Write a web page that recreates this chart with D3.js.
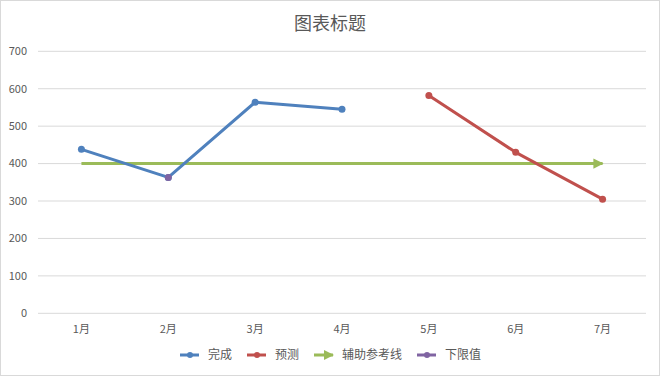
<!DOCTYPE html>
<html>
<head>
<meta charset="utf-8">
<script src="https://cdn.jsdelivr.net/npm/d3@7"></script>
<style>
  body { margin: 0; background: #fff; }
  svg { display: block; font-family: "Noto Sans CJK SC", "Microsoft YaHei", sans-serif; }
</style>
</head>
<body>
<script>
(function(){

//chart data
var months = ["1月", "2月", "3月", "4月", "5月", "6月", "7月"];
var doneValues = [438, 363, 564, 545, null, null, null];      //完成
var forecastValues = [null, null, null, null, 582, 430, 305]; //预测
var refValues = [400, 400, 400, 400, 400, 400, 400];          //辅助参考线
var lowerValues = [null, 363, null, null, null, null, null];  //下限值
var yTicks = [0, 100, 200, 300, 400, 500, 600, 700];

var seriesNames = ["完成", "预测", "辅助参考线", "下限值"];
var colors = ["#4f81bd", "#c0504d", "#9bbb59", "#8064a2"];

//frame dimensions
var width = 660,
    height = 376,
    left = 38,
    right = 646,
    top = 51.3,
    bottom = 313.3;

var svg = d3.select("body")
    .append("svg")
    .attr("width", width)
    .attr("height", height);

//outer border
svg.append("rect")
    .attr("x", 0.5).attr("y", 0.5)
    .attr("width", width - 1).attr("height", height - 1)
    .attr("fill", "#fff")
    .attr("stroke", "#d9d9d9");

var x = d3.scaleBand()
    .domain(months)
    .range([left, right]);

var y = d3.scaleLinear()
    .domain([0, 700])
    .range([bottom, top]);

function cx(d){ return x(d) + x.bandwidth() / 2; }

//gridlines
svg.selectAll(".grid")
    .data(yTicks)
    .enter()
    .append("line")
    .attr("class", "grid")
    .attr("x1", left).attr("x2", right)
    .attr("y1", function(d){ return y(d); })
    .attr("y2", function(d){ return y(d); })
    .attr("stroke", "#d9d9d9")
    .attr("stroke-width", 1);

//y axis labels
svg.selectAll(".ylab")
    .data(yTicks)
    .enter()
    .append("text")
    .attr("class", "ylab")
    .attr("x", 27)
    .attr("y", function(d){ return y(d); })
    .attr("dy", "0.35em")
    .attr("text-anchor", "end")
    .attr("fill", "#595959")
    .style("font-size", "11px")
    .text(function(d){ return d; });

//x axis labels
svg.selectAll(".xlab")
    .data(months)
    .enter()
    .append("text")
    .attr("class", "xlab")
    .attr("x", cx)
    .attr("y", 333)
    .attr("text-anchor", "middle")
    .attr("fill", "#595959")
    .style("font-size", "11px")
    .text(function(d){ return d; });

//title
svg.append("text")
    .attr("x", width / 2)
    .attr("y", 30)
    .attr("text-anchor", "middle")
    .attr("fill", "#595959")
    .style("font-size", "18px")
    .text("图表标题");

//arrow marker for the reference line
var defs = svg.append("defs");
defs.append("marker")
    .attr("id", "arrow")
    .attr("viewBox", "0 0 10 10")
    .attr("refX", 9).attr("refY", 5)
    .attr("markerWidth", 3.4).attr("markerHeight", 3.4)
    .attr("markerUnits", "strokeWidth")
    .attr("orient", "auto")
    .append("path")
    .attr("d", "M0,0L10,5L0,10Z")
    .attr("fill", colors[2]);

var line = d3.line()
    .defined(function(d){ return d.v != null; })
    .x(function(d){ return cx(d.m); })
    .y(function(d){ return y(d.v); });

function pairs(vals){
    return months.map(function(m, i){ return {m: m, v: vals[i]}; });
}

var allSeries = [doneValues, forecastValues, refValues, lowerValues];

//reference line (drawn under the others)
svg.append("path")
    .datum(pairs(refValues))
    .attr("d", line)
    .attr("fill", "none")
    .attr("stroke", colors[2])
    .attr("stroke-width", 3)
    .attr("marker-end", "url(#arrow)");

//data lines with markers
[0, 1, 3].forEach(function(s){
    var data = pairs(allSeries[s]);
    svg.append("path")
        .datum(data)
        .attr("d", line)
        .attr("fill", "none")
        .attr("stroke", colors[s])
        .attr("stroke-width", 3)
        .attr("stroke-linejoin", "round");
    svg.selectAll(".dot" + s)
        .data(data.filter(function(d){ return d.v != null; }))
        .enter()
        .append("circle")
        .attr("class", "dot" + s)
        .attr("cx", function(d){ return cx(d.m); })
        .attr("cy", function(d){ return y(d.v); })
        .attr("r", 3.5)
        .attr("fill", colors[s]);
});

//legend
var legendX = [180, 247, 314, 417];
var legend = svg.selectAll(".legend")
    .data(seriesNames)
    .enter()
    .append("g")
    .attr("class", "legend")
    .attr("transform", function(d, i){ return "translate(" + legendX[i] + ",355)"; });

legend.append("line")
    .attr("x1", 0).attr("x2", 19)
    .attr("y1", 0).attr("y2", 0)
    .attr("stroke", function(d, i){ return colors[i]; })
    .attr("stroke-width", 3)
    .attr("marker-end", function(d, i){ return i == 2 ? "url(#arrow)" : null; });

legend.filter(function(d, i){ return i != 2; })
    .append("circle")
    .attr("cx", 10).attr("cy", 0).attr("r", 3)
    .attr("fill", function(d){ return colors[seriesNames.indexOf(d)]; });

legend.append("text")
    .attr("x", 28)
    .attr("y", 0)
    .attr("dy", "0.35em")
    .attr("fill", "#595959")
    .style("font-size", "12px")
    .text(function(d){ return d; });

})();
</script>
</body>
</html>
